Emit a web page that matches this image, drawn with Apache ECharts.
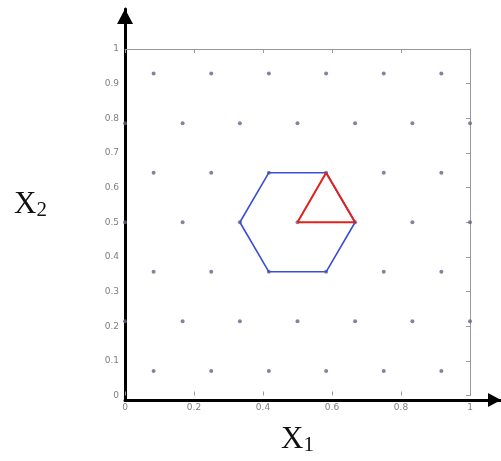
<!DOCTYPE html>
<html>
<head>
<meta charset="utf-8">
<script src="https://cdn.jsdelivr.net/npm/echarts@6/dist/echarts.min.js"></script>
<style>
  html, body { margin: 0; padding: 0; background: #fff; }
  #chart { width: 501px; height: 461px; }
</style>
</head>
<body>
<div id="chart"></div>
<script>
// Lattice sample points: alternating rows are shifted by half a column
const oddRowX  = [0.083, 0.25, 0.417, 0.583, 0.75, 0.917];
const oddRowY  = [0.071, 0.357, 0.643, 0.929];
const evenRowX = [0, 0.167, 0.333, 0.5, 0.667, 0.833, 1];
const evenRowY = [0.214, 0.5, 0.786];

// Hexagonal neighbourhood around the centre point
const hexX = [0.333, 0.417, 0.583, 0.667, 0.583, 0.417, 0.333];
const hexY = [0.5, 0.643, 0.643, 0.5, 0.357, 0.357, 0.5];

// Triangle (simplex) spanned by the centre and two neighbours
const triX = [0.5, 0.583, 0.667, 0.5];
const triY = [0.5, 0.643, 0.5, 0.5];

// Axis tick spacing
const xTickStep = 0.2;
const yTickStep = 0.1;

const latticePts = [];
oddRowY.forEach(y => oddRowX.forEach(x => latticePts.push([x, y])));
evenRowY.forEach(y => evenRowX.forEach(x => latticePts.push([x, y])));

const zip = (xs, ys) => xs.map((x, i) => [x, ys[i]]);

const labelStyle = { color: '#7e7e7e', fontSize: 9, fontFamily: 'DejaVu Sans' };
const boxLine = { show: true, onZero: false, lineStyle: { color: '#9a9a9a', width: 1 } };
const inTick = { show: true, inside: true, length: 4, lineStyle: { color: '#9a9a9a', width: 1 } };
const nameRich = {
  x: { fontFamily: 'Liberation Serif', fontSize: 31, color: '#111', lineHeight: 32 },
  s: { fontFamily: 'Liberation Serif', fontSize: 21, color: '#111', lineHeight: 32, padding: [12, 0, 0, 0] }
};

const chart = echarts.init(document.getElementById('chart'), null, { renderer: 'canvas' });

chart.setOption({
  backgroundColor: '#fff',
  animation: false,
  grid: [
    // plotting box
    { left: 125, right: 31, top: 49, bottom: 61 },
    // frame carrying the arrowed axes, which run past the box
    { left: 125, right: 0, top: 9, bottom: 61 }
  ],
  xAxis: [
    {
      gridIndex: 0, type: 'value', min: 0, max: 1, interval: xTickStep,
      position: 'bottom',
      axisLine: { show: false, onZero: false },
      axisTick: inTick,
      axisLabel: Object.assign({ margin: 8 }, labelStyle),
      splitLine: { show: false },
      name: '{x|X}{s|1}',
      nameLocation: 'middle',
      nameGap: 28,
      nameTextStyle: { rich: nameRich }
    },
    {
      gridIndex: 0, type: 'value', min: 0, max: 1, interval: xTickStep,
      position: 'top',
      axisLine: boxLine,
      axisTick: inTick,
      axisLabel: { show: false },
      splitLine: { show: false }
    },
    {
      gridIndex: 1, type: 'value', min: 0, max: 1,
      axisLine: {
        show: true, symbol: ['none', 'triangle'], symbolSize: [14, 13],
        symbolOffset: [0, -6.5],
        lineStyle: { color: '#000', width: 3 }
      },
      axisTick: { show: false }, axisLabel: { show: false }, splitLine: { show: false }
    }
  ],
  yAxis: [
    {
      gridIndex: 0, type: 'value', min: 0, max: 1, interval: yTickStep,
      position: 'left',
      axisLine: { show: false, onZero: false },
      axisTick: { show: false },
      axisLabel: Object.assign({ margin: 6 }, labelStyle),
      splitLine: { show: false }
    },
    {
      gridIndex: 0, type: 'value', min: 0, max: 1, interval: yTickStep,
      position: 'right',
      axisLine: boxLine,
      axisTick: inTick,
      axisLabel: { show: false },
      splitLine: { show: false }
    },
    {
      gridIndex: 1, type: 'value', min: 0, max: 1,
      axisLine: {
        show: true, symbol: ['none', 'triangle'], symbolSize: [16, 15],
        symbolOffset: [0, -7.5],
        lineStyle: { color: '#000', width: 3 }
      },
      axisTick: { show: false }, axisLabel: { show: false }, splitLine: { show: false },
      name: '{x|X}{s|2}',
      nameLocation: 'middle',
      nameRotate: 0,
      nameGap: 78,
      nameTextStyle: { rich: nameRich }
    }
  ],
  series: [
    {
      type: 'scatter', xAxisIndex: 0, yAxisIndex: 0,
      data: latticePts,
      symbol: 'circle', symbolSize: 4,
      itemStyle: { color: '#64648a' },
      silent: true, z: 2
    },
    {
      type: 'line', xAxisIndex: 0, yAxisIndex: 0,
      data: zip(hexX, hexY),
      showSymbol: false,
      lineStyle: { color: '#3a4fd6', width: 1.6 },
      silent: true, z: 3
    },
    {
      type: 'line', xAxisIndex: 0, yAxisIndex: 0,
      data: zip(triX, triY),
      showSymbol: false,
      lineStyle: { color: '#e0221f', width: 2 },
      silent: true, z: 4
    }
  ]
});
</script>
</body>
</html>
